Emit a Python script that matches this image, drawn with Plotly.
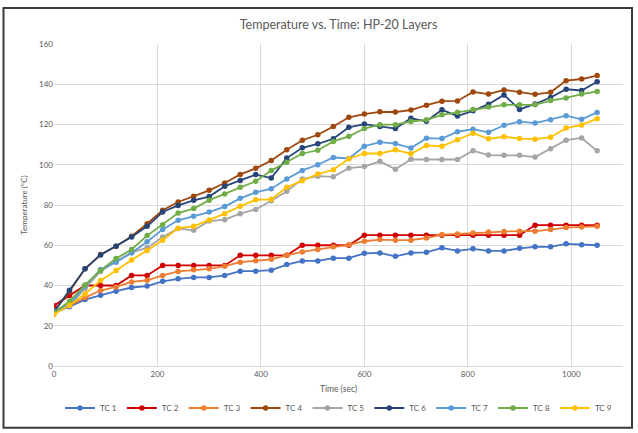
import plotly.graph_objects as go

# Sampling times (s)
time_s = [30 * i for i in range(36)]

tc1 = [26.5, 29.5, 33, 35.2, 37.2, 39, 39.7, 42.1, 43.3, 44, 44, 45, 47.1, 47.1, 47.6, 50.4,
       52.2, 52.2, 53.6, 53.6, 56, 56.2, 54.5, 56.2, 56.5, 58.7, 57.2, 58.2, 57.2, 57.2, 58.5,
       59.2, 59.2, 60.7, 60.2, 60]
tc2 = [30, 35, 40, 40, 40, 45, 45, 50, 50, 50, 50, 50, 55, 55, 55, 55, 60, 60, 60, 60,
       65, 65, 65, 65, 65, 65, 65, 65, 65, 65, 65, 70, 70, 70, 70, 70]
tc3 = [27, 30, 34, 37.5, 39.3, 41.8, 42.6, 45, 47, 47.8, 48.3, 49.6, 51.6, 52.3, 53, 55,
       56.7, 57.9, 59.2, 60.2, 62, 62.8, 62.5, 62.5, 63.6, 65.3, 65.6, 66.1, 66.6, 66.8, 67,
       67, 67.8, 68.8, 69.1, 69.4]
tc4 = [27, 37, 48.3, 55.4, 59.5, 64.5, 70.7, 77.4, 81.5, 84.3, 87.3, 90.9, 95.2, 98.2, 102.1,
       107.4, 112.2, 114.9, 119, 123.6, 125.2, 126.3, 126.2, 127.2, 129.6, 131.6, 131.7, 136.2,
       135.1, 137.2, 136, 135, 136, 141.8, 142.6, 144.3]
tc5 = [26.5, 30, 38.5, 47, 52, 56.5, 58.7, 64.1, 68.3, 67.4, 72, 72.7, 75.7, 77.8, 82.1, 86.8,
       92.9, 94.3, 94, 98.3, 99.1, 101.7, 97.8, 102.7, 102.6, 102.6, 102.6, 107, 104.8, 104.7,
       104.7, 103.8, 108, 112.2, 113.3, 106.9]
tc6 = [27, 37.7, 48.3, 55.2, 59.5, 64.1, 69.4, 76.5, 79.8, 82.3, 84.2, 89.3, 92.2, 95.1, 93.4,
       103.3, 108.4, 110.4, 112.9, 118.6, 120.2, 119, 118, 123.1, 121.6, 127.3, 124.2, 126.8,
       130.1, 134.7, 127.5, 130.2, 133.4, 137.5, 136.9, 141.2]
tc7 = [26.8, 30.6, 39.7, 47.9, 51.6, 56.2, 61.7, 67.8, 72.4, 74.4, 76.5, 79.2, 83.3, 86.3, 88.1,
       92.9, 97.2, 100, 103.6, 103.1, 109.2, 111.2, 110.5, 108.3, 113.2, 113, 116.4, 117.7,
       116.1, 119.6, 121.4, 120.7, 122.4, 124.4, 122.6, 126]
tc8 = [26.5, 32.2, 40.3, 47.5, 53.4, 57.9, 64.8, 70.2, 76, 78.2, 82.4, 85.5, 88.8, 91.8, 97.1,
       101.2, 105.6, 107.2, 111.6, 114.1, 118, 119.9, 119.9, 121.5, 122.3, 124.8, 126.1, 127.4,
       128.7, 129.8, 129.8, 129.8, 131.9, 133.2, 135.1, 136.4]
tc9 = [25.6, 30.2, 35.8, 42.5, 47.4, 52.7, 57.4, 62.5, 68.5, 69.4, 72.6, 75.7, 79.4, 82.6, 82.8,
       88.8, 92.1, 95.4, 97.5, 103, 105.6, 105.6, 107.4, 105.5, 109.6, 109.2, 112.4, 115.7,
       112.9, 113.9, 113, 112.7, 113.7, 118.2, 119.8, 122.9]

series_names = ["TC 1", "TC 2", "TC 3", "TC 4", "TC 5", "TC 6", "TC 7", "TC 8", "TC 9"]
series_values = [tc1, tc2, tc3, tc4, tc5, tc6, tc7, tc8, tc9]
series_colors = ["#4472C4", "#D00000", "#ED7D31", "#9E480E", "#A5A5A5",
                 "#264478", "#5B9BD5", "#70AD47", "#FFC000"]

x_ticks = [0, 200, 400, 600, 800, 1000]
y_ticks = [0, 20, 40, 60, 80, 100, 120, 140, 160]

TEXT = "#595959"
GRID = "#D9D9D9"
FONT = "Lato, Open Sans, sans-serif"

fig = go.Figure()
for name, vals, col in zip(series_names, series_values, series_colors):
    fig.add_trace(go.Scatter(
        x=time_s, y=vals, name=name, mode="lines+markers",
        line=dict(color=col, width=1.8),
        marker=dict(color=col, size=5.5, symbol="circle"),
    ))

W, H = 638, 433
ML, MR, MT, MB = 54, 15, 44, 66
pw, ph = W - ML - MR, H - MT - MB


def px_to_paper(px, py):
    return (px - ML) / pw, (H - MB - py) / ph


# outer frame around the chart
x0, y0 = px_to_paper(3.5, 429)
x1, y1 = px_to_paper(632, 8)
fig.add_shape(type="rect", xref="paper", yref="paper", x0=x0, y0=y0, x1=x1, y1=y1,
              line=dict(color="#3a3a3a", width=2), layer="below")

fig.update_layout(
    width=W, height=H,
    margin=dict(l=ML, r=MR, t=MT, b=MB),
    paper_bgcolor="white", plot_bgcolor="white",
    font=dict(family=FONT, color=TEXT, size=9),
    title=dict(text="Temperature vs. Time: HP-20 Layers", x=0.5, xanchor="center",
               xref="paper", y=1 - 25 / H, yanchor="middle",
               font=dict(size=12.5, color=TEXT, family=FONT)),
    showlegend=True,
    legend=dict(orientation="h", x=0.5, xanchor="center", y=px_to_paper(0, 408)[1],
                yanchor="middle", font=dict(size=8, color=TEXT), itemwidth=30,
                bgcolor="rgba(0,0,0,0)", tracegroupgap=0),
    xaxis=dict(range=[0, 1100], tickvals=x_ticks, showgrid=True, gridcolor=GRID, gridwidth=1,
               zeroline=False, showline=True, linecolor=GRID, ticks="",
               tickfont=dict(size=8, color=TEXT),
               title=dict(text="Time (sec)", font=dict(size=8.5, color=TEXT), standoff=8)),
    yaxis=dict(range=[0, 160], tickvals=y_ticks, showgrid=True, gridcolor=GRID, gridwidth=1,
               zeroline=False, showline=False, ticks="",
               tickfont=dict(size=8, color=TEXT),
               title=dict(text="Temperature (°C)", font=dict(size=8, color=TEXT), standoff=10)),
)

fig.write_html("out.html")
